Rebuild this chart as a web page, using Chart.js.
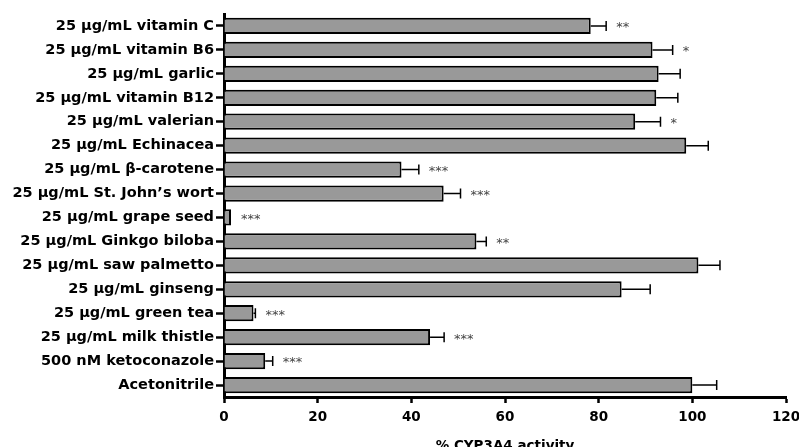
<!DOCTYPE html>
<html>
<head>
<meta charset="utf-8">
<script src="https://cdn.jsdelivr.net/npm/chart.js@4.4.1/dist/chart.umd.min.js"></script>
<style>
  html, body { margin: 0; padding: 0; background: #fff; }
  #wrap { width: 799px; height: 447px; }
</style>
</head>
<body>
<div id="wrap"><canvas id="c" width="799" height="447"></canvas></div>
<script>
// Treatments, top to bottom
const categories = [
  '25 µg/mL vitamin C',
  '25 µg/mL vitamin B6',
  '25 µg/mL garlic',
  '25 µg/mL vitamin B12',
  '25 µg/mL valerian',
  '25 µg/mL Echinacea',
  '25 µg/mL β-carotene',
  '25 µg/mL St. John’s wort',
  '25 µg/mL grape seed',
  '25 µg/mL Ginkgo biloba',
  '25 µg/mL saw palmetto',
  '25 µg/mL ginseng',
  '25 µg/mL green tea',
  '25 µg/mL milk thistle',
  '500 nM ketoconazole',
  'Acetonitrile'
];
// Mean % CYP3A4 activity
const activity = [78.3, 91.5, 92.8, 92.3, 87.8, 98.7, 37.9, 46.9, 1.5, 53.9, 101.3, 84.9, 6.3, 44.0, 8.8, 100.0];
// Error (upper side only)
const errorUpper = [3.3, 4.3, 4.6, 4.6, 5.4, 4.7, 3.7, 3.6, 0, 2.1, 4.6, 6.1, 0.4, 3.0, 1.6, 5.2];
// Significance markers
const significance = ['**', '*', '', '', '*', '', '***', '***', '***', '**', '', '', '***', '***', '***', ''];
// X axis ticks
const xTicks = [0, 20, 40, 60, 80, 100, 120];

const labelFont = { family: 'DejaVu Sans', size: 14.5, weight: 'bold' };
const tickFont = { family: 'DejaVu Sans', size: 13.5, weight: 'bold' };

const errorBarPlugin = {
  id: 'errorBars',
  afterDatasetsDraw(chart) {
    const ctx = chart.ctx;
    const meta = chart.getDatasetMeta(0);
    const xs = chart.scales.x;
    ctx.save();
    meta.data.forEach((bar, i) => {
      const y = bar.y;
      const x0 = xs.getPixelForValue(activity[i]);
      const x1 = xs.getPixelForValue(activity[i] + errorUpper[i]);
      if (errorUpper[i] > 0) {
        ctx.strokeStyle = '#000';
        ctx.lineWidth = 1.5;
        ctx.beginPath();
        ctx.moveTo(x0, y);
        ctx.lineTo(x1, y);
        ctx.moveTo(x1, y - 5);
        ctx.lineTo(x1, y + 5);
        ctx.stroke();
      }
      if (significance[i]) {
        ctx.fillStyle = '#444';
        ctx.font = '13px "DejaVu Sans"';
        ctx.textAlign = 'left';
        ctx.textBaseline = 'middle';
        ctx.fillText(significance[i], Math.max(x0, x1) + 10, y + 2);
      }
    });
    ctx.restore();
  }
};

new Chart(document.getElementById('c'), {
  type: 'bar',
  data: {
    labels: categories,
    datasets: [{
      data: activity,
      backgroundColor: '#999999',
      borderColor: '#000000',
      borderWidth: 2,
      borderSkipped: 'start',
      categoryPercentage: 0.85,
      barPercentage: 0.8
    }]
  },
  options: {
    indexAxis: 'y',
    responsive: false,
    animation: false,
    layout: { padding: { left: 0, right: 0, top: 14, bottom: -8 } },
    plugins: {
      legend: { display: false },
      tooltip: { enabled: false }
    },
    scales: {
      x: {
        min: 0,
        max: 120,
        afterFit(s) { s.height = 58; s.paddingRight = 13; s.paddingLeft = 0; },
        afterBuildTicks(s) { s.ticks = xTicks.map(v => ({ value: v })); },
        grid: { drawOnChartArea: false, drawTicks: true, tickLength: 6, tickWidth: 2.5, color: '#000' },
        border: { color: '#000', width: 3 },
        ticks: { color: '#000', font: tickFont, padding: 6, maxRotation: 0 },
        title: { display: true, text: '% CYP3A4 activity', color: '#000', font: tickFont, padding: { top: 4, bottom: 0 } }
      },
      y: {
        afterFit(s) { s.width = 224; },
        grid: { offset: false, drawOnChartArea: false, drawTicks: true, tickLength: 8, tickWidth: 2.5, tickColor: '#000', color: '#000' },
        border: { color: '#000', width: 3 },
        ticks: { color: '#000', font: labelFont, padding: 2, autoSkip: false }
      }
    }
  },
  plugins: [errorBarPlugin]
});
</script>
</body>
</html>
